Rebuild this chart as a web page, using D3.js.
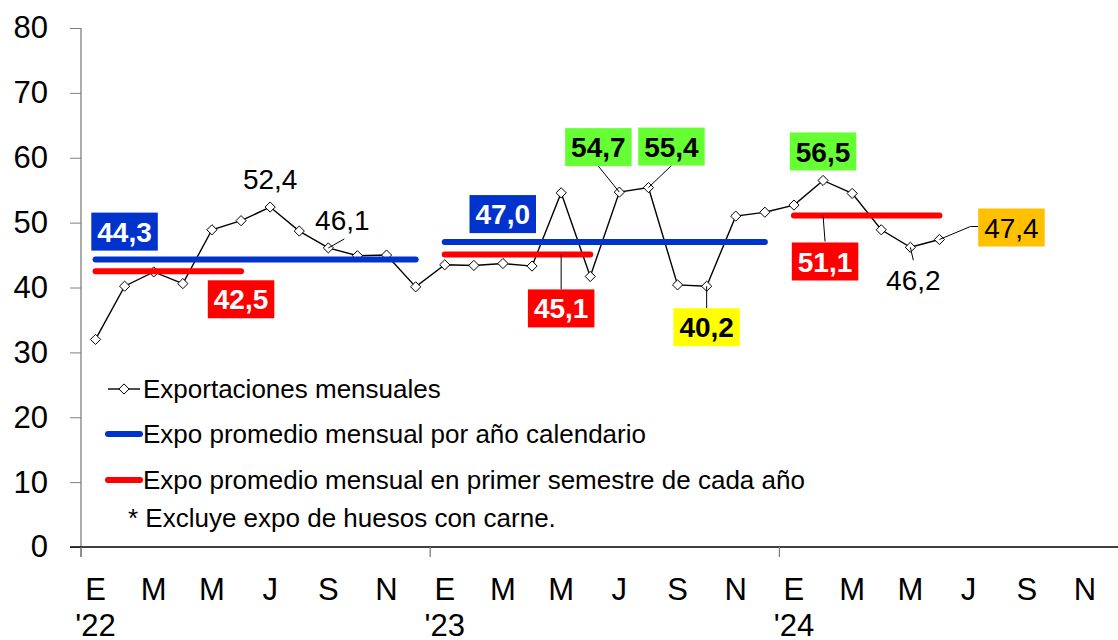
<!DOCTYPE html>
<html>
<head>
<meta charset="utf-8">
<script src="https://cdn.jsdelivr.net/npm/d3@7"></script>
<style>
body { margin: 0; background: #fff; }
svg { display: block; font-family: "Liberation Sans", Arial, sans-serif; }
</style>
</head>
<body>
<div id="chart"></div>
<script>
// monthly exports, Jan 2022 .. Jun 2024
const expo2022 = [32.0, 40.2, 42.4, 40.6, 48.9, 50.3, 52.4, 48.7, 46.1, 44.9, 45.0, 40.1];
const expo2023 = [43.5, 43.4, 43.7, 43.3, 54.6, 41.7, 54.7, 55.4, 40.4, 40.2, 51.0, 51.6];
const expo2024 = [52.7, 56.5, 54.5, 48.9, 46.2, 47.4];
const annualAvg = [44.3, 47.0];
const semesterAvg = [42.5, 45.1, 51.1];
const monthTicks = ['E', 'M', 'M', 'J', 'S', 'N'];
const yearLabels = ["'22", "'23", "'24"];
const yTicks = [0, 10, 20, 30, 40, 50, 60, 70, 80];
const legendLabels = [
  'Exportaciones mensuales',
  'Expo promedio mensual por año calendario',
  'Expo promedio mensual en primer semestre de cada año'
];
const footNote = '* Excluye expo de huesos con carne.';

const BLUE = '#0033cc', RED = '#ff0000', GREEN = '#66ff33', YELLOW = '#ffff00', ORANGE = '#ffc000';

let w = 1118, h = 640;
let padLeft = 81, padBottom = 547, padTop = 28;

const series = expo2022.concat(expo2023, expo2024);
const fmt = v => d3.format('.1f')(v).replace('.', ',');

let svg = d3.select('#chart').append('svg')
  .attr('width', w).attr('height', h);

let x = d3.scaleBand()
  .domain(d3.range(36))
  .range([padLeft, padLeft + 36 * 29.1]);
let xc = i => x(i) + x.bandwidth() / 2;

let y = d3.scaleLinear()
  .domain([0, 80])
  .range([padBottom, padTop]);

// y axis
let yAxis = d3.axisLeft(y).tickValues(yTicks).tickSize(11).tickPadding(22);
let gy = svg.append('g')
  .attr('transform', 'translate(' + padLeft + ',0)')
  .call(yAxis);
gy.select('.domain').remove();
gy.selectAll('.tick line').attr('stroke', '#808080');
gy.selectAll('.tick text').attr('font-size', 31).attr('font-family', '"Liberation Sans", Arial, sans-serif').attr('fill', '#000');

svg.append('line')
  .attr('x1', padLeft).attr('x2', padLeft)
  .attr('y1', y(80)).attr('y2', padBottom + 10)
  .attr('stroke', '#808080').attr('stroke-width', 1.3);

// x axis
svg.append('line')
  .attr('x1', 70).attr('x2', w)
  .attr('y1', padBottom).attr('y2', padBottom)
  .attr('stroke', '#000').attr('stroke-width', 1.3);

svg.selectAll('.yeartick')
  .data(yearLabels)
  .enter().append('line')
  .attr('x1', (d, k) => x(k * 12)).attr('x2', (d, k) => x(k * 12))
  .attr('y1', padBottom).attr('y2', padBottom + 10)
  .attr('stroke', '#808080').attr('stroke-width', 1.3);

let mIdx = d3.range(0, 36, 2);
svg.selectAll('.mlabel')
  .data(mIdx)
  .enter().append('text')
  .attr('x', d => xc(d))
  .attr('y', 600)
  .attr('text-anchor', 'middle')
  .attr('font-size', 31)
  .text(d => monthTicks[(d % 12) / 2]);

svg.selectAll('.ylabel')
  .data(yearLabels)
  .enter().append('text')
  .attr('x', (d, k) => xc(k * 12))
  .attr('y', 636)
  .attr('text-anchor', 'middle')
  .attr('font-size', 31)
  .text(d => d);

// monthly line
let line = d3.line()
  .x((d, i) => xc(i))
  .y(d => y(d));

svg.append('path')
  .datum(series)
  .attr('d', line)
  .attr('fill', 'none')
  .attr('stroke', '#000')
  .attr('stroke-width', 1.4);

let diamond = d3.symbol().type(d3.symbolDiamond2).size(66);
svg.selectAll('.pt')
  .data(series)
  .enter().append('path')
  .attr('d', diamond)
  .attr('transform', (d, i) => 'translate(' + xc(i) + ',' + y(d) + ')')
  .attr('fill', '#fff')
  .attr('stroke', '#000')
  .attr('stroke-width', 1);

// average lines
svg.selectAll('.annual')
  .data(annualAvg)
  .enter().append('line')
  .attr('x1', (d, k) => xc(k * 12)).attr('x2', (d, k) => xc(k * 12 + 11))
  .attr('y1', d => y(d)).attr('y2', d => y(d))
  .attr('stroke', BLUE).attr('stroke-width', 6).attr('stroke-linecap', 'round');

svg.selectAll('.semester')
  .data(semesterAvg)
  .enter().append('line')
  .attr('x1', (d, k) => xc(k * 12)).attr('x2', (d, k) => xc(k * 12 + 5))
  .attr('y1', d => y(d)).attr('y2', d => y(d))
  .attr('stroke', RED).attr('stroke-width', 6).attr('stroke-linecap', 'round');

// callouts: anchor month i, pixel offset of label centre, leader points
const notes = [
  { kind: 'annual', k: 0, i: 0, dx: 29, dy: -28, fill: BLUE, fg: '#fff', bold: true },
  { kind: 'semester', k: 0, i: 5, dx: 0, dy: 28, fill: RED, fg: '#fff', bold: true },
  { kind: 'point', i: 6, dx: 0, dy: -28, fill: null, fg: '#000', bold: false },
  { kind: 'point', i: 8, dx: 14, dy: -28, fill: null, fg: '#000', bold: false, leader: [[16, -9]] },
  { kind: 'annual', k: 1, i: 12, dx: 58, dy: -28, fill: BLUE, fg: '#fff', bold: true },
  { kind: 'semester', k: 1, i: 16, dx: 0, dy: 54, fill: RED, fg: '#fff', bold: true, leader: [[0, 35]] },
  { kind: 'point', i: 18, dx: -21, dy: -45, fill: GREEN, fg: '#000', bold: true, leader: [[-21, -26]] },
  { kind: 'point', i: 19, dx: 23, dy: -41, fill: GREEN, fg: '#000', bold: true, leader: [[23, -22]] },
  { kind: 'point', i: 21, dx: 0, dy: 41, fill: YELLOW, fg: '#000', bold: true, leader: [[0, 22]] },
  { kind: 'point', i: 25, dx: 0, dy: -29, fill: GREEN, fg: '#000', bold: true },
  { kind: 'semester', k: 2, i: 25, dx: 2, dy: 46, fill: RED, fg: '#fff', bold: true, leader: [[2, 26]] },
  { kind: 'point', i: 28, dx: 3, dy: 33, fill: null, fg: '#000', bold: false, leader: [[3, 13]] },
  { kind: 'point', i: 29, dx: 72, dy: -12, fill: ORANGE, fg: '#000', bold: false, leader: [[31, -13], [39, -13]] }
];

notes.forEach(n => {
  let v = n.kind === 'annual' ? annualAvg[n.k] : n.kind === 'semester' ? semesterAvg[n.k] : series[n.i];
  let ax = xc(n.i), ay = y(v);
  let cx = ax + n.dx, cy = ay + n.dy;
  if (n.leader) {
    let pts = [[ax, ay]].concat(n.leader.map(p => [ax + p[0], ay + p[1]]));
    svg.append('path')
      .attr('d', d3.line()(pts))
      .attr('fill', 'none')
      .attr('stroke', '#000')
      .attr('stroke-width', 1);
  }
  let g = svg.append('g');
  let rect = g.append('rect');
  let t = g.append('text')
    .attr('x', cx).attr('y', cy)
    .attr('dy', '0.36em')
    .attr('text-anchor', 'middle')
    .attr('font-size', 28)
    .attr('font-weight', n.bold ? 'bold' : 'normal')
    .attr('fill', n.fg)
    .text(fmt(v));
  if (n.fill) {
    let tw = t.node().getComputedTextLength();
    rect.attr('x', cx - tw / 2 - 6).attr('y', cy - 19)
      .attr('width', tw + 12).attr('height', 38)
      .attr('fill', n.fill);
  } else {
    rect.remove();
  }
});

// legend
let lg = svg.append('g');
let rows = [389, 434, 480];
lg.append('line')
  .attr('x1', 108).attr('x2', 140).attr('y1', rows[0]).attr('y2', rows[0])
  .attr('stroke', '#000').attr('stroke-width', 1.4);
lg.append('path')
  .attr('d', diamond)
  .attr('transform', 'translate(124,' + rows[0] + ')')
  .attr('fill', '#fff').attr('stroke', '#000');
[BLUE, RED].forEach((c, k) => {
  lg.append('line')
    .attr('x1', 108).attr('x2', 140).attr('y1', rows[k + 1]).attr('y2', rows[k + 1])
    .attr('stroke', c).attr('stroke-width', 6).attr('stroke-linecap', 'round');
});
lg.selectAll('.lt')
  .data(legendLabels)
  .enter().append('text')
  .attr('x', 143)
  .attr('y', (d, k) => rows[k] + 9)
  .attr('font-size', 26)
  .text(d => d);
lg.append('text')
  .attr('x', 128).attr('y', 527)
  .attr('font-size', 26)
  .text(footNote);
</script>
</body>
</html>
